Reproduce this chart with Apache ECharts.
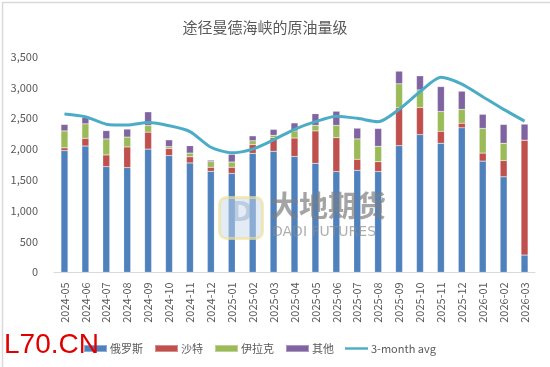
<!DOCTYPE html>
<html><head><meta charset="utf-8">
<script src="https://cdn.jsdelivr.net/npm/echarts@6/dist/echarts.min.js"></script>
<style>html,body{margin:0;padding:0;background:#fff}#c{width:550px;height:367px}</style>
</head><body><div id="c"></div>
<script>
const categories = ['2024-05','2024-06','2024-07','2024-08','2024-09','2024-10','2024-11','2024-12','2025-01','2025-02','2025-03','2025-04','2025-05','2025-06','2025-07','2025-08','2025-09','2025-10','2025-11','2025-12','2026-01','2026-02','2026-03'];
const russia = [1975,2050,1715,1700,2000,1895,1775,1640,1605,1930,1965,1880,1770,1635,1655,1635,2055,2235,2095,2345,1805,1550,280];
const saudi  = [45,125,190,335,275,115,100,65,100,145,220,300,525,550,180,160,615,440,195,75,130,265,1865];
const iraq   = [275,235,260,160,110,30,60,90,85,60,40,115,90,200,330,250,390,285,320,225,400,280,0];
const other  = [105,105,135,130,220,110,120,25,125,80,95,130,190,230,175,290,205,230,405,295,230,305,260];
const avg3   = [2570,2525,2405,2390,2430,2380,2285,2030,1940,2000,2150,2320,2445,2535,2500,2445,2645,2930,3165,3055,2850,2645,2455];
const yTicks = [0,500,1000,1500,2000,2500,3000,3500];
const seriesNames = ['俄罗斯','沙特','伊拉克','其他','3-month avg'];

const FONT = "'Noto Sans CJK SC','Noto Sans',sans-serif";
const chart = echarts.init(document.getElementById('c'));
const barS = (name, data, color) => ({
  name, type:'bar', stack:'s', data, barWidth:7,
  itemStyle:{color, borderColor:'rgba(255,255,255,0.35)', borderWidth:0.5},
  z:2
});
chart.setOption({
  animation:false,
  textStyle:{fontFamily:FONT},
  title:{text:'途径曼德海峡的原油量级', left:260, top:15, textAlign:'center',
    textStyle:{fontSize:15, fontWeight:'normal', color:'#595959', fontFamily:FONT}},
  grid:{left:54, right:15, top:56.7, bottom:94.7},
  legend:{left:78, top:338, itemGap:11, itemWidth:23, itemHeight:7,
    textStyle:{fontSize:11, color:'#595959', fontFamily:FONT, padding:[0,0,0,-2]},
    data:[
      {name:'俄罗斯', icon:'rect'},{name:'沙特', icon:'rect'},{name:'伊拉克', icon:'rect'},{name:'其他', icon:'rect'},
      {name:'3-month avg', icon:'path://M0,0L0,0M0,2.3H23V4.7H0ZM23,7L23,7'}
    ]},
  xAxis:{type:'category', data:categories,
    axisLine:{lineStyle:{color:'#d9d9d9'}}, axisTick:{show:false},
    axisLabel:{rotate:90, fontSize:11, color:'#595959', margin:10, interval:0, fontFamily:FONT}},
  yAxis:{type:'value', min:yTicks[0], max:yTicks[yTicks.length-1], interval:500,
    splitLine:{show:false}, axisLine:{show:false}, axisTick:{show:false},
    axisLabel:{fontSize:11, color:'#595959', margin:16, fontFamily:FONT,
      formatter:v=>v.toLocaleString('en-US')}},
  series:[
    barS(seriesNames[0], russia, '#4f81bd'),
    barS(seriesNames[1], saudi, '#c0504d'),
    barS(seriesNames[2], iraq, '#9bbb59'),
    barS(seriesNames[3], other, '#8064a2'),
    {name:seriesNames[4], type:'line', data:avg3, smooth:0.25, symbol:'none',
      lineStyle:{color:'#4bacc6', width:3}, itemStyle:{color:'#4bacc6'}, z:5}
  ],
  graphic:[
    {type:'rect', left:0, top:0, shape:{width:549, height:366},
      style:{fill:'none', stroke:'#d9d9d9', lineWidth:1.5}, silent:true, z:0},
    {type:'rect', left:218, top:196, shape:{width:43, height:41, r:7},
      style:{fill:'rgba(200,215,235,0.5)', stroke:'rgba(240,225,150,0.65)', lineWidth:3}, z:10},
    {type:'text', left:231, top:201, style:{text:'D', fontSize:26, fontWeight:'bold',
      fill:'rgba(150,175,205,0.5)', fontFamily:"'DejaVu Sans',sans-serif"}, z:10},
    {type:'text', left:270, top:191, style:{text:'大地期货', fontSize:29, fontWeight:'bold',
      fill:'rgba(125,125,125,0.7)', fontFamily:FONT}, z:10},
    {type:'text', left:272, top:225, style:{text:'DADI FUTURES', fontSize:14,
      fill:'rgba(140,140,140,0.7)', fontFamily:"'DejaVu Sans',sans-serif"}, z:10},
    {type:'text', left:4, top:331, style:{text:'L70.CN', fontSize:28,
      fill:'#e00000', fontFamily:"'Liberation Sans',Arial,sans-serif"}, z:20}
  ]
});
</script></body></html>
